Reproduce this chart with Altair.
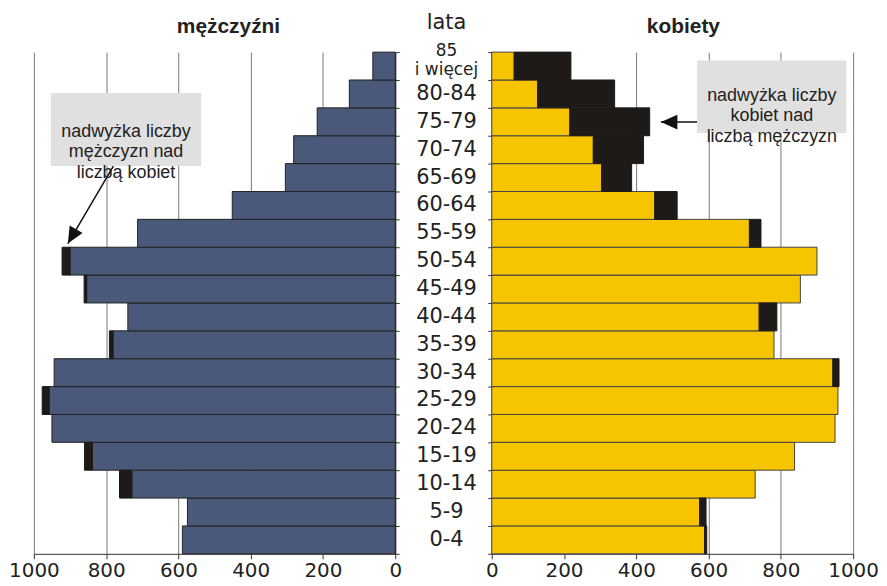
import altair as alt
import pandas as pd

# ---- data ----
ages = ["0-4", "5-9", "10-14", "15-19", "20-24", "25-29", "30-34", "35-39", "40-44",
        "45-49", "50-54", "55-59", "60-64", "65-69", "70-74", "75-79", "80-84", "85+"]
age_labels = ["0-4", "5-9", "10-14", "15-19", "20-24", "25-29", "30-34", "35-39", "40-44",
              "45-49", "50-54", "55-59", "60-64", "65-69", "70-74", "75-79", "80-84", "85\ni więcej"]
men = [589, 575, 763, 860, 950, 977, 944, 791, 740, 861, 922, 713, 451, 304, 281, 216, 127, 62]
women = [595, 593, 729, 838, 950, 958, 961, 781, 789, 854, 900, 745, 513, 387, 420, 437, 340, 219]
ticks = [0, 200, 400, 600, 800, 1000]

# annotations (x in data units, y in age-group units 0..18 counted from bottom)
note_men = ["nadwyżka liczby\nmężczyzn nad\nliczbą kobiet"]
note_men_box = {"x1": [953], "x2": [537], "y1": [16.53], "y2": [13.91]}
note_men_text = {"x": [745], "y": [15.15]}
note_men_arrow = {"x1": [780], "y1": [13.91], "x2": [906], "y2": [11.13]}

note_women = ["nadwyżka liczby\nkobiet nad\nliczbą mężczyzn"]
note_women_box = {"x1": [568], "x2": [981], "y1": [17.70], "y2": [15.10]}
note_women_text = {"x": [775], "y": [16.44]}
note_women_arrow = {"x1": [568], "y1": [15.49], "x2": [468], "y2": [15.49]}

df = pd.DataFrame({"age": ages, "label": age_labels, "men": men, "women": women})
df["common"] = df[["men", "women"]].min(axis=1)
order_top = list(reversed(ages))

BLUE = "#4a5879"
YELLOW = "#f7c400"
BLACK = "#1e1a18"
GRID = "#777777"
ARROW_SHAPE = "M0,0L0.45,1L-0.45,1Z"

W, H, MID = 363, 504, 97


def yband(orient):
    return alt.Y("age:N", sort=order_top,
                 scale=alt.Scale(paddingInner=0, paddingOuter=0),
                 axis=alt.Axis(orient=orient, labels=False, title=None, ticks=True,
                               tickSize=4, tickBand="extent", domain=True,
                               domainColor="#333", tickColor="#333", grid=False))


def xaxis():
    return alt.Axis(values=ticks, format="d", grid=True, gridColor=GRID, gridWidth=1,
                    title=None, labelFontSize=20, labelFont="DejaVu Sans", labelColor="#222",
                    labelFlush=False, labelPadding=2, tickSize=5, tickColor="#333",
                    domainColor="#333", labelOverlap=False)


def ann_layers(box, text, txt, arrow, angle):
    ys = alt.Scale(domain=[0, 18], nice=False, zero=False)
    bdf = pd.DataFrame(box)
    rect = alt.Chart(bdf).mark_rect(color="#e0e0e0").encode(
        x="x1:Q", x2="x2:Q", y=alt.Y("y1:Q", scale=ys, axis=None), y2="y2:Q")
    tdf = pd.DataFrame({**text, "t": txt})
    tx = alt.Chart(tdf).mark_text(font="Liberation Sans", fontSize=18, color="#222",
                                  lineBreak="\n", lineHeight=21, align="center",
                                  baseline="middle").encode(
        x="x:Q", y=alt.Y("y:Q", scale=ys, axis=None), text="t:N")
    adf = pd.DataFrame(arrow)
    line = alt.Chart(adf).mark_rule(color="#111", strokeWidth=1.5).encode(
        x="x1:Q", x2="x2:Q", y=alt.Y("y1:Q", scale=ys, axis=None), y2="y2:Q")
    head = alt.Chart(adf).mark_point(shape=ARROW_SHAPE, filled=True, size=1100,
                                     color="#111", opacity=1, angle=angle).encode(
        x="x2:Q", y=alt.Y("y2:Q", scale=ys, axis=None))
    return alt.layer(rect, tx, line, head)


# ---- left panel: men ----
xl_scale = alt.Scale(domain=[0, 1000], reverse=True, nice=False)
men_main = alt.Chart(df).mark_bar(color=BLUE, stroke="#222", strokeWidth=1).encode(
    x=alt.X("common:Q", scale=xl_scale, axis=xaxis()),
    y=yband("right"))
men_extra = alt.Chart(df).transform_filter("datum.men > datum.women").mark_bar(
    color=BLACK, stroke=BLACK, strokeWidth=1).encode(
    x=alt.X("common:Q", scale=xl_scale), x2="men:Q", y=alt.Y("age:N", sort=order_top))
men_bars = alt.layer(men_main, men_extra)

left = alt.layer(men_bars,
                 ann_layers(note_men_box, note_men_text, note_men, note_men_arrow, 210)
                 ).resolve_scale(y="independent").properties(
    width=W, height=H,
    title=alt.Title("mężczyźni", font="Liberation Sans", fontSize=21, fontWeight="bold",
                    color="#222", dx=14, offset=15))

# ---- middle: age labels ----
mid_y = alt.Y("age:N", sort=order_top, scale=alt.Scale(paddingInner=0, paddingOuter=0), axis=None)
mid_main = alt.Chart(df).transform_filter("datum.age != '85+'").mark_text(
    font="DejaVu Sans", fontSize=21, color="#222", align="center", baseline="middle",
    dx=3).encode(
    y=mid_y, text="label:N")
mid_top = alt.Chart(df).transform_filter("datum.age == '85+'").mark_text(
    font="DejaVu Sans", fontSize=17, color="#222", align="center", baseline="middle",
    lineBreak="\n", lineHeight=19, dy=-15, dx=3).encode(
    y=mid_y, text="label:N")
middle = alt.layer(mid_main, mid_top).properties(
    width=MID, height=H,
    title=alt.Title("lata", font="DejaVu Sans", fontSize=21, fontWeight="normal",
                    color="#222", dx=3, offset=9))

# ---- right panel: women ----
xr_scale = alt.Scale(domain=[0, 1000], nice=False)
women_main = alt.Chart(df).mark_bar(color=YELLOW, stroke="#444", strokeWidth=1).encode(
    x=alt.X("common:Q", scale=xr_scale, axis=xaxis()),
    y=yband("left"))
women_extra = alt.Chart(df).transform_filter("datum.women > datum.men").mark_bar(
    color=BLACK, stroke=BLACK, strokeWidth=1).encode(
    x=alt.X("common:Q", scale=xr_scale), x2="women:Q", y=alt.Y("age:N", sort=order_top))
women_bars = alt.layer(women_main, women_extra)

right = alt.layer(women_bars,
                  ann_layers(note_women_box, note_women_text, note_women, note_women_arrow, 270)
                  ).resolve_scale(y="independent").properties(
    width=W, height=H,
    title=alt.Title("kobiety", font="Liberation Sans", fontSize=21, fontWeight="bold",
                    color="#222", dx=11, offset=15))

chart = alt.hconcat(left, middle, right, spacing=0, bounds="flush").configure_view(
    stroke="transparent").properties(padding={"left": 0, "top": 2, "right": 0, "bottom": 0},
                                     background="white")

chart.save("out.html", embed_options={"renderer": "svg", "actions": False})
